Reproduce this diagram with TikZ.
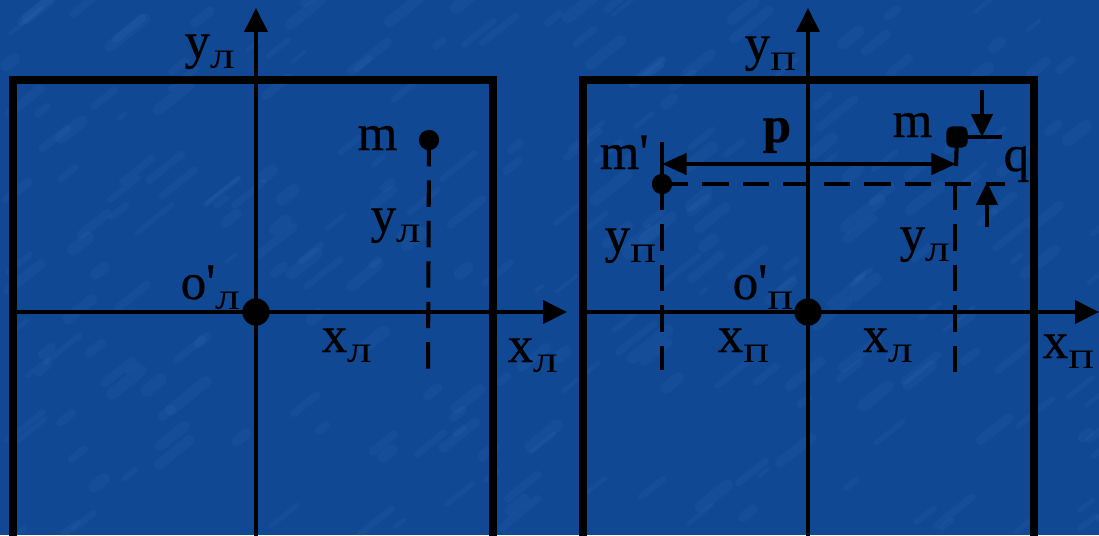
\documentclass[tikz,border=0pt]{standalone}
\usepackage{fontspec}
\setmainfont{Liberation Serif}[FakeBold=0.6]
\usetikzlibrary{arrows.meta, positioning}
\definecolor{plate}{RGB}{16,72,148}
\definecolor{streak}{RGB}{70,130,205}
\newcommand{\idx}[1]{\raisebox{-2.8pt}{\fontsize{7.5}{8}\selectfont\scalebox{1.35}[1]{#1}}}
\newcommand{\prm}{\textquotesingle}

\tikzset{
  frame/.style={line width=2pt},
  axis/.style={line width=1.15pt, -{Triangle[length=6.8pt,width=6.5pt]}},
  guide/.style={line width=1.15pt, dash pattern=on 7.5pt off 4pt},
  tick/.style={line width=1.15pt},
  dim/.style={line width=1.15pt, {Triangle[length=7pt,width=6pt]}-{Triangle[length=7pt,width=6pt]}},
  ptr/.style={line width=1.15pt, -{Triangle[length=6.5pt,width=6pt]}},
  bigdot/.style={circle, fill=black, inner sep=0pt, minimum size=7.8pt},
  dot/.style={circle, fill=black, inner sep=0pt, minimum size=5.8pt},
  lbl/.style={anchor=base west, inner sep=0pt, font=\fontsize{14.5}{16}\selectfont},
  blbl/.style={lbl, font=\fontsize{14.5}{16}\selectfont\bfseries},
}

\begin{document}
\begin{tikzpicture}[x=0.01cm, y=-0.01cm]
  % background
  \fill[plate] (0,0) rectangle (1099,535);
  \useasboundingbox (0,0) rectangle (1099,535);
  \clip (0,0) rectangle (1099,535);
  \pgfmathsetseed{42}
  \foreach \i in {1,...,260}{
    \pgfmathsetmacro{\sx}{rnd*1099}
    \pgfmathsetmacro{\sy}{rnd*535}
    \pgfmathsetmacro{\sl}{6+rnd*30}
    \pgfmathsetmacro{\sw}{1+rnd*2.5}
    \draw[streak, opacity=0.1, line width=\sw pt, line cap=round] (\sx,\sy) -- ++(\sl,-0.8*\sl);
  }

  % left image
  \coordinate (oL) at (256,312);
  \coordinate (xLs) at (13,312);
  \coordinate (xLe) at (567,312);
  \coordinate (yLs) at (256,545);
  \coordinate (yLe) at (256,8);
  \draw[frame] (13,545) |- (493,80) -- (493,545);
  \draw[axis] (xLs) -- (xLe);
  \draw[axis] (yLs) -- (yLe);
  \node[bigdot] (oLdot) at (oL) {};
  \node[dot] (mL) at (429,140) {};
  \coordinate (mLfoot) at (428,375);
  \draw[guide] (mL.center) -- (mLfoot);

  \node[lbl] (yLname) at (184,58) {y\idx{Л}};
  \node[lbl] (mLname) at (357,150) {m};
  \node[lbl] (yLval) at (370,232) {y\idx{Л}};
  \node[lbl] (oLname) at (180,299) {o\prm\idx{Л}};
  \node[lbl] (xLval) at (321,352) {x\idx{Л}};
  \node[lbl] (xLname) at (507,362) {x\idx{Л}};

  % right image
  \coordinate (oR) at (808,312);
  \coordinate (xRs) at (583,312);
  \coordinate (xRe) at (1099,312);
  \coordinate (yRs) at (808,545);
  \coordinate (yRe) at (808,8);
  \draw[frame] (583,545) |- (1034,80) -- (1034,545);
  \draw[axis] (xRs) -- (xRe);
  \draw[axis] (yRs) -- (yRe);
  \node[bigdot] (oRdot) at (oR) {};
  \node[fill=black, rounded corners=1.5pt, inner sep=0pt, minimum size=6pt] (mR) at (957,137) {};
  \node[dot] (mP) at (662,184) {};

  % p
  \coordinate (mPtop) at (662,142);
  \coordinate (mRbot) at (956,166);
  \coordinate (pL) at (662,164);
  \coordinate (pR) at (956,164);
  \draw[tick] (mPtop) -- (mP.center);
  \draw[tick] (mR.center) -- (mRbot);
  \draw[dim] (pL) -- (pR);

  % projections
  \coordinate (dashEnd) at (1005,184);
  \coordinate (mPfoot) at (662,370);
  \coordinate (mRproj) at (955,184);
  \coordinate (mRfoot) at (955,375);
  \draw[guide] (mP.center) -- (dashEnd);
  \draw[guide] (mP.center) -- (mPfoot);
  \draw[guide] (mRproj) -- (mRfoot);

  % q
  \coordinate (qTopS) at (982,90);
  \coordinate (qTopE) at (982,137);
  \coordinate (qTick) at (1002,137);
  \coordinate (qBotS) at (987,227);
  \coordinate (qBotE) at (987,182);
  \draw[ptr] (qTopS) -- (qTopE);
  \draw[tick] (mR.center) -- (qTick);
  \draw[ptr] (qBotS) -- (qBotE);

  \node[lbl] (yRname) at (744,60) {y\idx{П}};
  \node[blbl] (pname) at (762,142) {p};
  \node[lbl] (mRname) at (892,137) {m};
  \node[lbl] (mPname) at (599,169) {m\prm};
  \node[lbl] (qname) at (1003,171) {q};
  \node[lbl] (yPval) at (604,252) {y\idx{П}};
  \node[lbl] (yRval) at (899,251) {y\idx{Л}};
  \node[lbl] (oRname) at (732,299) {o\prm\idx{П}};
  \node[lbl] (xPval) at (717,352) {x\idx{П}};
  \node[lbl] (xRval) at (862,352) {x\idx{Л}};
  \node[lbl] (xRname) at (1042,358) {x\idx{П}};
\end{tikzpicture}
\end{document}
